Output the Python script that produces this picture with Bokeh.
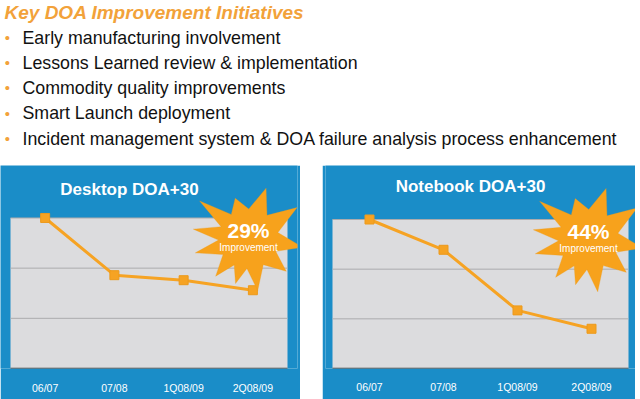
import math
from bokeh.plotting import figure
from bokeh.models import FactorRange, Range1d, PolyAnnotation, Label, BoxAnnotation
from bokeh.layouts import column, row
from bokeh.core.properties import value
from bokeh.embed import file_html
from bokeh.resources import INLINE

# ---- data ----
heading = "Key DOA Improvement Initiatives"
bullets = [
    "Early manufacturing involvement",
    "Lessons Learned review & implementation",
    "Commodity quality improvements",
    "Smart Launch deployment",
    "Incident management system & DOA failure analysis process enhancement",
]
periods = ["06/07", "07/08", "1Q08/09", "2Q08/09"]
desktop_doa = [3.0, 1.86, 1.76, 1.56]
notebook_doa = [3.0, 2.39, 1.17, 0.80]
desktop_gain = "29%"
notebook_gain = "44%"

BLUE = "#1A8DC8"
GREY = "#DCDCDE"
ORANGE = "#F6A323"
STAR = "#F7A21C"
TXT_ORANGE = "#F2A23A"
FONT = "Liberation Sans"

# starburst outline: (angle in degrees, tip radius in px)
STAR_TIPS = [(142, 62), (108, 43), (71, 54), (33, 58), (-9, 55), (-41, 50),
             (-80, 53), (-106, 47), (-131, 50), (-165, 55), (170, 56)]
STAR_INNER = 30

# ---- top text (coordinates in page pixels) ----
TOP_H = 165
top = figure(width=640, height=TOP_H, x_range=(0, 640), y_range=(TOP_H, 0),
             output_backend="svg", toolbar_location=None,
             x_axis_location=None, y_axis_location=None,
             min_border=0, outline_line_color=None)
top.xgrid.visible = False
top.ygrid.visible = False
top.text(x=[4], y=[12], text=[heading], text_font=value(FONT),
         text_font_size="19px", text_font_style="bold italic",
         text_color=TXT_ORANGE, text_baseline="middle")
ys = [37, 62, 87, 112.5, 138]
top.text(x=[7] * len(bullets), y=ys, text=["•"] * len(bullets),
         text_font=value(FONT), text_font_size="15px", text_color=TXT_ORANGE,
         text_baseline="middle", text_align="center")
top.text(x=[22] * len(bullets), y=ys, text=bullets, text_font=value(FONT),
         text_font_size="17.8px", text_color="#111111", text_baseline="middle")


# ---- panels ----
def panel(title, vals, gain, w, h, bl, br, bb, pad_px, grey_top_px,
          title_c, star_c, standoff):
    fw = w - bl - br
    fh = h - bb
    grey_w = fw - 2 * pad_px
    ppu_x = grey_w / 4.0
    ppu_y = (fh - grey_top_px) / 3.0
    y_top = fh / ppu_y
    rp = (pad_px / ppu_x) / 2.0
    xr = FactorRange(*periods, range_padding=rp, range_padding_units="percent")
    p = figure(width=w, height=h, x_range=xr, y_range=Range1d(0, y_top),
               output_backend="svg", toolbar_location=None,
               y_axis_location=None,
               min_border_left=bl, min_border_right=br,
               min_border_top=0, min_border_bottom=bb,
               border_fill_color=BLUE, background_fill_color=BLUE,
               outline_line_color=None)
    p.xgrid.visible = False
    p.ygrid.visible = False

    def px_to_data(px, py):
        return ((px - bl - pad_px) / ppu_x, (fh - py) / ppu_y)

    p.add_layout(BoxAnnotation(left=0, right=4, bottom=0, top=3,
                               fill_color=GREY, fill_alpha=1,
                               line_color=None, level="underlay"))
    p.segment(x0=[0, 0, 0], x1=[4, 4, 4], y0=[1, 2, 3], y1=[1, 2, 3],
              line_color="#ABABAD", line_width=1)
    p.segment(x0=[0], x1=[4], y0=[0], y1=[0], line_color="#3C3C3C",
              line_width=1.5)

    p.xaxis.axis_line_color = None
    p.xaxis.major_tick_line_color = None
    p.xaxis.minor_tick_line_color = None
    p.xaxis.major_label_text_color = "white"
    p.xaxis.major_label_text_font = FONT
    p.xaxis.major_label_text_font_size = "10.5px"
    p.xaxis.major_label_standoff = standoff

    p.line(periods, vals, line_color=ORANGE, line_width=3)
    p.scatter(periods, vals, marker="square", size=9, fill_color=ORANGE,
              line_color="#EC9A1C")

    tx, ty = px_to_data(*title_c)
    p.add_layout(Label(x=tx, y=ty, text=title, text_font=FONT,
                       text_font_size="17px", text_font_style="bold",
                       text_color="white", text_align="center",
                       text_baseline="middle"))

    cxp, cyp = star_c
    tips = sorted(STAR_TIPS, key=lambda t: t[0] % 360)
    xs, ysd = [], []
    n = len(tips)
    for i in range(n):
        ang, r = tips[i]
        a = math.radians(ang)
        dx, dy = px_to_data(cxp + r * math.cos(a), cyp - r * math.sin(a))
        xs.append(dx)
        ysd.append(dy)
        a_next = tips[(i + 1) % n][0] % 360
        a_cur = ang % 360
        if a_next <= a_cur:
            a_next += 360
        am = math.radians((a_cur + a_next) / 2)
        dx, dy = px_to_data(cxp + STAR_INNER * math.cos(am),
                            cyp - STAR_INNER * math.sin(am))
        xs.append(dx)
        ysd.append(dy)
    p.add_layout(PolyAnnotation(xs=xs, ys=ysd, fill_color=STAR, fill_alpha=1,
                                line_color="#EE9A18", line_width=1))
    gx, gy = px_to_data(cxp, cyp - 8)
    p.add_layout(Label(x=gx, y=gy, text=gain, text_font=FONT,
                       text_font_size="21px", text_font_style="bold",
                       text_color="white", text_align="center",
                       text_baseline="middle"))
    ix, iy = px_to_data(cxp, cyp + 9)
    p.add_layout(Label(x=ix, y=iy, text="Improvement", text_font=FONT,
                       text_font_size="10px", text_color="white",
                       text_align="center", text_baseline="middle"))
    return p


PANEL_H = 399 - TOP_H
left = panel("Desktop DOA+30", desktop_doa, desktop_gain,
             300, PANEL_H, 0, 3, 399 - 370, 10, 218 - TOP_H,
             (129, 189 - TOP_H), (248, 239 - TOP_H), 7)
right = panel("Notebook DOA+30", notebook_doa, notebook_gain,
              313, PANEL_H, 3, 0, 399 - 368, 7, 219 - TOP_H,
              (470 - 322, 186 - TOP_H), (588 - 322, 239 - TOP_H), 6)

layout = column(top, row(left, right, spacing=22), spacing=0)
open("out.html", "w").write(file_html(layout, INLINE))
